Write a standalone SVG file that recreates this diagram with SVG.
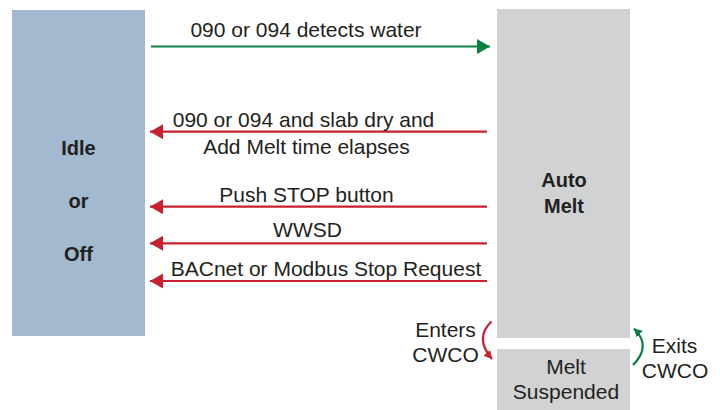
<svg xmlns="http://www.w3.org/2000/svg" width="720" height="410" viewBox="0 0 720 410">
  <defs>
    <style>
      .t { font-family: "Liberation Sans", Arial, sans-serif; font-size: 21px; fill: #231f20; text-anchor: middle; }
      .b { font-family: "Liberation Sans", Arial, sans-serif; font-size: 20px; font-weight: bold; fill: #231f20; text-anchor: middle; }
      .red { stroke: #c8202f; stroke-width: 2.2; fill: none; }
      .green { stroke: #0a8043; stroke-width: 2.2; fill: none; }
    </style>
    <marker id="ahRed" markerUnits="userSpaceOnUse" markerWidth="14" markerHeight="16" refX="13" refY="7.5" orient="auto">
      <path d="M0,0 L13,7.5 L0,15 Z" fill="#c8202f"/>
    </marker>
    <marker id="ahGreen" markerUnits="userSpaceOnUse" markerWidth="14" markerHeight="16" refX="13" refY="7.5" orient="auto">
      <path d="M0,0 L13,7.5 L0,15 Z" fill="#0a8043"/>
    </marker>
    <marker id="ahRedS" markerUnits="userSpaceOnUse" markerWidth="10" markerHeight="10" refX="8" refY="4.5" orient="auto">
      <path d="M0,0 L8,4.5 L0,9 Z" fill="#c8202f"/>
    </marker>
    <marker id="ahGreenS" markerUnits="userSpaceOnUse" markerWidth="10" markerHeight="10" refX="8" refY="4.5" orient="auto">
      <path d="M0,0 L8,4.5 L0,9 Z" fill="#0a8043"/>
    </marker>
  </defs>
  <rect width="720" height="410" fill="#ffffff"/>

  <g id="idle">
    <rect x="12" y="10" width="133" height="326" fill="#a3b9cf"/>
    <text class="b" x="78.5" y="155">Idle</text>
    <text class="b" x="78.5" y="208">or</text>
    <text class="b" x="78.5" y="261">Off</text>
  </g>

  <g id="auto-melt">
    <rect x="497" y="9" width="133" height="329" fill="#d1d2d4"/>
    <text class="b" x="564" y="187">Auto</text>
    <text class="b" x="564" y="213">Melt</text>
  </g>

  <g id="melt-suspended">
    <rect x="497" y="349" width="133" height="61" fill="#d1d2d4"/>
    <text class="t" x="566" y="374">Melt</text>
    <text class="t" x="566" y="399">Suspended</text>
  </g>

  <g id="connectors">
    <line class="green" x1="151" y1="46.5" x2="490" y2="46.5" marker-end="url(#ahGreen)"/>
    <line class="red" x1="487" y1="131.7" x2="150" y2="131.7" marker-end="url(#ahRed)"/>
    <line class="red" x1="487" y1="206.7" x2="150" y2="206.7" marker-end="url(#ahRed)"/>
    <line class="red" x1="487" y1="243.3" x2="150" y2="243.3" marker-end="url(#ahRed)"/>
    <line class="red" x1="487" y1="281" x2="150" y2="281" marker-end="url(#ahRed)"/>
    <path class="red" d="M491.5,321.5 Q474,338 492,359" marker-end="url(#ahRedS)"/>
    <path class="green" d="M633,365 Q652,346 634,328.5" marker-end="url(#ahGreenS)"/>
  </g>

  <g id="labels">
    <text class="t" x="306" y="37">090 or 094 detects water</text>
    <text class="t" x="303.5" y="126.5">090 or 094 and slab dry and</text>
    <text class="t" x="306.5" y="154.3">Add Melt time elapses</text>
    <text class="t" x="306.5" y="202">Push STOP button</text>
    <text class="t" x="307.5" y="236.7">WWSD</text>
    <text class="t" x="326" y="275.5">BACnet or Modbus Stop Request</text>
    <text class="t" x="445.5" y="336.7">Enters</text>
    <text class="t" x="445.5" y="361.7">CWCO</text>
    <text class="t" x="674.5" y="353.3">Exits</text>
    <text class="t" x="675" y="378.3">CWCO</text>
  </g>
</svg>
